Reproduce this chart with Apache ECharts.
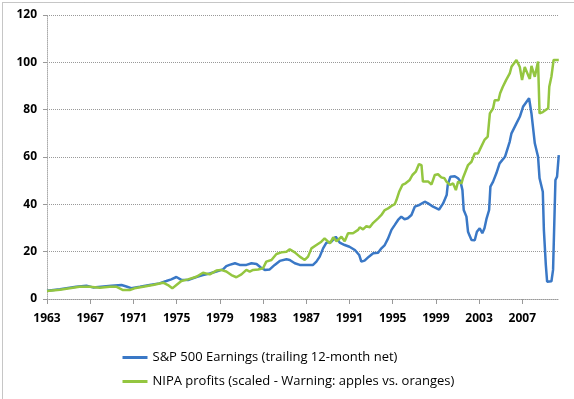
<!DOCTYPE html>
<html>
<head>
<meta charset="utf-8">
<script src="https://cdn.jsdelivr.net/npm/echarts@6/dist/echarts.min.js"></script>
<style>
html,body{margin:0;padding:0;background:#fff;}
#chart{width:574px;height:399px;}
</style>
</head>
<body>
<div id="chart"></div>
<script>
// ---- data ----
var seriesNames = ['S&P 500 Earnings (trailing 12-month net)', 'NIPA profits (scaled - Warning: apples vs. oranges)'];
var xTickYears = [1963, 1967, 1971, 1975, 1979, 1983, 1987, 1991, 1995, 1999, 2003, 2007];
var yTicks = [0, 20, 40, 60, 80, 100, 120];

var spYears = [1963.0,1964.2,1965.1,1965.7,1966.65,1967.26,1968.0,1968.96,1969.9,1970.35,1970.8,1971.6,1972.5,1973.4,1974.05,1974.5,1974.98,1975.44,1976.05,1976.83,1977.44,1978.06,1978.68,1979.3,1979.6,1979.9,1980.4,1980.84,1981.46,1981.93,1982.4,1982.76,1983.16,1983.62,1984.08,1984.55,1985.17,1985.47,1985.94,1986.4,1987.0,1987.63,1987.94,1988.25,1988.56,1988.87,1989.33,1989.73,1990.1,1990.56,1991.0,1991.5,1991.9,1992.1,1992.4,1992.8,1993.2,1993.65,1993.96,1994.27,1994.58,1994.89,1995.2,1995.5,1995.8,1996.1,1996.4,1996.74,1997.05,1997.44,1997.97,1998.28,1998.74,1999.3,1999.67,2000.0,2000.1,2000.35,2000.75,2001.05,2001.28,2001.46,2001.58,2001.83,2001.98,2002.1,2002.3,2002.6,2002.8,2003.06,2003.3,2003.5,2003.7,2003.93,2004.05,2004.3,2004.6,2004.9,2005.4,2005.84,2006.0,2006.46,2006.77,2007.07,2007.63,2007.85,2008.16,2008.46,2008.6,2008.9,2009.0,2009.18,2009.3,2009.7,2009.85,2009.97,2010.07,2010.22,2010.38];
var spValues = [3.5,4.1,4.8,5.2,5.6,4.9,5.2,5.6,5.9,5.3,4.6,5.2,5.9,6.6,7.6,8.3,9.3,8.1,8.0,9.3,10.1,10.8,11.6,12.5,13.9,14.4,15.1,14.4,14.4,15.1,14.8,13.4,12.3,12.5,14.4,16.1,16.8,16.5,15.1,14.4,14.4,14.4,15.8,17.9,21.4,23.8,24.2,26.3,23.8,22.8,22.1,20.7,18.6,15.8,16.2,17.9,19.3,19.5,21.4,22.8,25.6,29.2,31.3,33.4,34.8,33.7,34.1,35.5,39.0,39.7,41.1,40.4,39.0,37.8,40.4,43.9,48.2,51.7,51.9,51.0,49.6,46.0,37.6,34.8,28.4,27.0,24.9,24.8,28.4,29.9,27.8,29.9,34.1,37.6,47.5,49.6,53.1,57.3,60.1,66.5,70.0,74.2,77.0,81.2,84.8,78.4,65.8,60.1,51.0,45.3,29.2,14.4,7.3,7.5,12.3,13.0,50.3,51.7,60.8];

var nipaYears = [1963.0,1964.2,1965.1,1966.0,1966.95,1967.9,1968.8,1969.4,1970.04,1970.66,1971.1,1971.9,1972.8,1973.75,1974.2,1974.6,1974.98,1975.44,1976.05,1976.83,1977.44,1978.06,1978.68,1979.1,1979.6,1980.07,1980.53,1981.0,1981.46,1981.77,1982.08,1982.55,1983.0,1983.3,1983.78,1984.24,1984.7,1985.17,1985.47,1985.94,1986.4,1986.86,1987.17,1987.48,1987.94,1988.4,1988.7,1989.2,1989.5,1989.8,1990.26,1990.56,1990.87,1991.33,1991.8,1991.95,1992.26,1992.57,1992.88,1993.2,1993.65,1993.96,1994.27,1994.58,1994.89,1995.2,1995.35,1995.6,1995.9,1996.2,1996.58,1996.83,1997.14,1997.44,1997.67,1997.8,1998.3,1998.6,1998.9,1999.2,1999.5,1999.8,1999.98,2000.3,2000.6,2000.85,2001.06,2001.37,2001.5,2001.8,2001.98,2002.3,2002.6,2002.9,2003.06,2003.5,2003.8,2004.0,2004.3,2004.45,2004.8,2004.95,2005.2,2005.5,2005.84,2006.0,2006.46,2006.77,2006.98,2007.23,2007.54,2007.7,2007.85,2008.16,2008.46,2008.6,2008.9,2009.4,2009.5,2009.7,2009.9,2010.38];
var nipaValues = [3.4,3.9,4.5,5.2,5.2,4.8,5.2,5.2,3.8,3.8,4.5,5.2,5.9,6.9,5.9,4.5,5.9,7.6,8.3,9.4,11.1,10.4,12.0,12.3,11.6,10.1,9.2,10.4,12.3,11.6,12.3,12.5,13.0,15.8,16.5,19.0,19.7,20.0,21.0,19.7,17.9,16.5,17.9,21.4,22.8,24.2,25.6,23.5,26.1,24.4,26.3,24.4,27.8,27.8,29.2,30.3,29.4,30.8,30.3,32.2,34.1,35.5,37.6,38.3,39.3,40.1,41.8,45.3,48.2,48.9,50.3,52.4,53.8,57.0,56.6,49.6,49.6,48.4,52.4,52.7,51.4,51.0,49.6,48.2,48.8,46.0,49.6,48.8,51.0,54.5,56.6,58.0,61.5,61.5,63.0,67.2,68.6,78.4,80.6,84.0,84.0,86.9,89.7,92.5,95.3,98.1,101.0,98.0,92.5,98.0,94.6,93.0,98.5,93.9,100.3,78.4,79.0,80.6,89.7,94.0,101.0,101.0];

function pairs(xs, ys) { return xs.map(function (x, i) { return [x, ys[i]]; }); }

var FONT = 'Open Sans';
var chart = echarts.init(document.getElementById('chart'), null, {renderer: 'canvas'});
chart.setOption({
  animation: false,
  backgroundColor: '#ffffff',
  graphic: [{
    type: 'rect', left: 0, top: 0, silent: true,
    shape: {x: 0.5, y: 0.5, width: 572, height: 397},
    style: {fill: 'none', stroke: '#8c8c8c', lineWidth: 1, lineDash: [1, 1]}
  }],
  grid: {left: 47, right: 15, top: 15, bottom: 100, containLabel: false},
  legend: {
    orient: 'vertical', left: 116, top: 346,
    itemWidth: 25, itemHeight: 14, itemGap: 11,
    itemStyle: {opacity: 0},
    lineStyle: {width: 3},
    textStyle: {fontFamily: FONT, fontSize: 13, color: '#000'},
    data: seriesNames
  },
  xAxis: {
    type: 'value', min: 1963, max: 2010.4,
    axisLine: {show: true, lineStyle: {color: '#999', type: 'dotted'}},
    axisTick: {show: true, length: 5, customValues: xTickYears, lineStyle: {color: '#999'}},
    axisLabel: {customValues: xTickYears, margin: 14, fontFamily: FONT, fontWeight: 'bold', fontSize: 12, color: '#000',
      formatter: function (v) { return String(Math.round(v)); }},
    splitLine: {show: false}
  },
  yAxis: {
    type: 'value', min: 0, max: 120, interval: 20,
    axisLine: {show: true, lineStyle: {color: '#aaa', type: 'dotted'}},
    axisTick: {show: true, length: 4, lineStyle: {color: '#999'}},
    axisLabel: {margin: 10, fontFamily: FONT, fontWeight: 'bold', fontSize: 12, color: '#000'},
    splitLine: {show: true, lineStyle: {color: '#999', type: 'dotted', width: 1}}
  },
  series: [{
    name: seriesNames[0], type: 'line', showSymbol: false, symbol: 'none',
    lineStyle: {color: '#3a78c6', width: 2.5}, itemStyle: {color: '#3a78c6'},
    data: pairs(spYears, spValues)
  }, {
    name: seriesNames[1], type: 'line', showSymbol: false, symbol: 'none',
    lineStyle: {color: '#94c640', width: 2.5}, itemStyle: {color: '#94c640'},
    data: pairs(nipaYears, nipaValues)
  }]
});
</script>
</body>
</html>
